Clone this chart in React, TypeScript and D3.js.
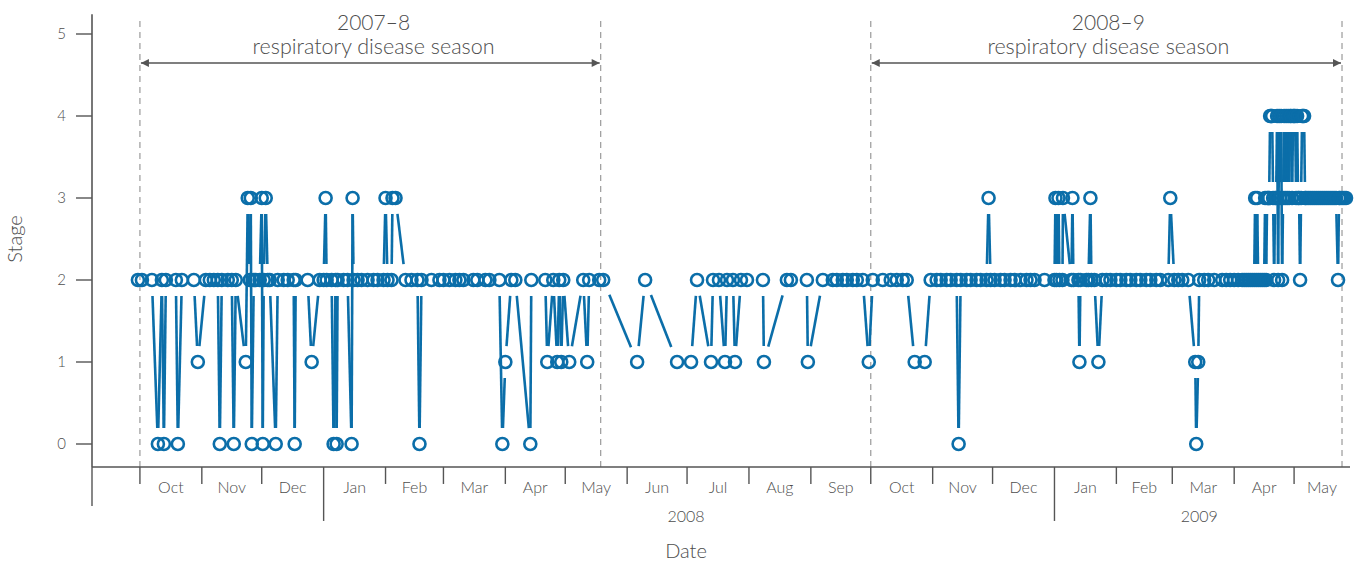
import React from "react";
import * as d3 from "d3";

// ---------- data (date, stage) ----------
const season2007: [string, number][] = [
  ["2007-09-30", 2], ["2007-10-02", 2], ["2007-10-07", 2], ["2007-10-10", 0], ["2007-10-12", 2],
  ["2007-10-13", 0], ["2007-10-14", 2], ["2007-10-19", 2], ["2007-10-20", 0], ["2007-10-22", 2],
  ["2007-10-28", 2], ["2007-10-30", 1], ["2007-11-03", 2], ["2007-11-05", 2], ["2007-11-07", 2],
  ["2007-11-09", 2], ["2007-11-10", 0], ["2007-11-11", 2], ["2007-11-14", 2], ["2007-11-16", 2],
  ["2007-11-17", 0], ["2007-11-18", 2], ["2007-11-23", 1], ["2007-11-24", 3], ["2007-11-25", 2],
  ["2007-11-25 12", 3], ["2007-11-26", 0], ["2007-11-27", 2], ["2007-11-28", 2], ["2007-11-30", 2],
  ["2007-12-01", 3], ["2007-12-01 12", 0], ["2007-12-02", 2], ["2007-12-03", 3], ["2007-12-04", 2],
  ["2007-12-05", 2], ["2007-12-08", 0], ["2007-12-09", 2], ["2007-12-12", 2], ["2007-12-14", 2],
  ["2007-12-17", 2], ["2007-12-17 12", 0], ["2007-12-18", 2], ["2007-12-24", 2], ["2007-12-26", 1],
  ["2007-12-30", 2], ["2008-01-01", 2], ["2008-01-02", 3], ["2008-01-02 12", 2], ["2008-01-05", 2],
  ["2008-01-06", 0], ["2008-01-07", 2], ["2008-01-07 12", 0], ["2008-01-08", 2], ["2008-01-11", 2],
  ["2008-01-13", 2], ["2008-01-15", 0], ["2008-01-15 12", 3], ["2008-01-16", 2], ["2008-01-18", 2],
  ["2008-01-20", 2], ["2008-01-23", 2], ["2008-01-26", 2], ["2008-01-28", 2], ["2008-01-31", 2],
  ["2008-02-01", 3], ["2008-02-02", 2], ["2008-02-04", 2], ["2008-02-04 12", 3], ["2008-02-06", 3],
  ["2008-02-11", 2], ["2008-02-14", 2], ["2008-02-17", 2], ["2008-02-18", 0], ["2008-02-19", 2],
  ["2008-02-24", 2], ["2008-02-28", 2], ["2008-03-01", 2], ["2008-03-04", 2], ["2008-03-07", 2],
  ["2008-03-09", 2], ["2008-03-11", 2], ["2008-03-16", 2], ["2008-03-18", 2], ["2008-03-22", 2],
  ["2008-03-24", 2], ["2008-03-29", 2], ["2008-03-30 12", 0], ["2008-04-01", 1], ["2008-04-04", 2],
  ["2008-04-06", 2], ["2008-04-13 12", 0], ["2008-04-14", 2], ["2008-04-21", 2], ["2008-04-22", 1],
  ["2008-04-25", 2], ["2008-04-27", 1], ["2008-04-28", 2], ["2008-04-29", 1], ["2008-04-30", 2],
  ["2008-05-03", 1], ["2008-05-10", 2], ["2008-05-12", 1], ["2008-05-13", 2], ["2008-05-18", 2],
  ["2008-05-20", 2],
];

const summer2008: [string, number][] = [
  ["2008-06-06", 1], ["2008-06-10", 2], ["2008-06-26", 1], ["2008-07-03", 1], ["2008-07-06", 2],
  ["2008-07-13", 1], ["2008-07-14", 2], ["2008-07-17", 2], ["2008-07-20", 1], ["2008-07-21", 2],
  ["2008-07-24", 2], ["2008-07-25", 1], ["2008-07-28", 2], ["2008-07-31", 2], ["2008-08-08", 2],
  ["2008-08-08 12", 1], ["2008-08-20", 2], ["2008-08-22", 2], ["2008-08-30", 2], ["2008-08-30 12", 1],
  ["2008-09-07", 2], ["2008-09-12", 2], ["2008-09-14", 2], ["2008-09-17", 2], ["2008-09-19", 2],
  ["2008-09-22", 2], ["2008-09-24", 2], ["2008-09-27", 2], ["2008-09-30", 1],
];

const season2008: [string, number][] = [
  ["2008-10-02", 2], ["2008-10-07", 2], ["2008-10-11", 2], ["2008-10-14", 2], ["2008-10-17", 2],
  ["2008-10-19", 2], ["2008-10-23", 1], ["2008-10-28", 1], ["2008-10-31", 2], ["2008-11-03", 2],
  ["2008-11-05", 2], ["2008-11-08", 2], ["2008-11-10", 2], ["2008-11-13", 2], ["2008-11-14", 0],
  ["2008-11-15", 2], ["2008-11-18", 2], ["2008-11-20", 2], ["2008-11-23", 2], ["2008-11-25", 2],
  ["2008-11-28", 2], ["2008-11-29", 3], ["2008-11-30", 2], ["2008-12-02", 2], ["2008-12-05", 2],
  ["2008-12-07", 2], ["2008-12-10", 2], ["2008-12-12", 2], ["2008-12-15", 2], ["2008-12-18", 2],
  ["2008-12-20", 2], ["2008-12-22", 2], ["2008-12-27", 2], ["2009-01-01", 2], ["2009-01-01 12", 3],
  ["2009-01-02", 2], ["2009-01-03", 3], ["2009-01-03 12", 2], ["2009-01-05", 2], ["2009-01-05 6", 3],
  ["2009-01-09 12", 2], ["2009-01-10", 3], ["2009-01-10 12", 2], ["2009-01-13", 2], ["2009-01-13 12", 1],
  ["2009-01-14", 2], ["2009-01-17", 2], ["2009-01-18", 2], ["2009-01-19", 3], ["2009-01-19 12", 2],
  ["2009-01-21", 2], ["2009-01-23", 1], ["2009-01-25", 2], ["2009-01-27", 2], ["2009-01-29", 2],
  ["2009-02-01", 2], ["2009-02-03", 2], ["2009-02-06", 2], ["2009-02-08", 2], ["2009-02-11", 2],
  ["2009-02-13", 2], ["2009-02-16", 2], ["2009-02-18", 2], ["2009-02-21", 2], ["2009-02-23", 2],
  ["2009-02-27", 2], ["2009-02-28", 3], ["2009-03-02", 2], ["2009-03-04", 2], ["2009-03-06", 2],
  ["2009-03-09", 2], ["2009-03-12 12", 1], ["2009-03-13", 0], ["2009-03-14", 1], ["2009-03-14 12", 2],
  ["2009-03-17", 2], ["2009-03-19", 2], ["2009-03-22", 2], ["2009-03-26", 2], ["2009-03-28", 2],
  ["2009-03-30", 2], ["2009-04-01", 2], ["2009-04-03", 2], ["2009-04-05", 2], ["2009-04-06", 2],
  ["2009-04-07", 2], ["2009-04-08", 2], ["2009-04-09", 2], ["2009-04-10", 2], ["2009-04-11", 2],
  ["2009-04-11 12", 3], ["2009-04-12", 2], ["2009-04-12 12", 3], ["2009-04-13", 2], ["2009-04-14", 2],
  ["2009-04-15", 2], ["2009-04-16", 2], ["2009-04-16 12", 3], ["2009-04-17", 2], ["2009-04-17 12", 3],
  ["2009-04-18", 3], ["2009-04-18 12", 3], ["2009-04-19", 4], ["2009-04-19 12", 4], ["2009-04-20", 4],
  ["2009-04-20 12", 3], ["2009-04-21", 2], ["2009-04-21 12", 3], ["2009-04-22", 3], ["2009-04-22 12", 4],
  ["2009-04-23", 2], ["2009-04-23 12", 4], ["2009-04-24", 3], ["2009-04-24 12", 4], ["2009-04-25", 2],
  ["2009-04-25 12", 3], ["2009-04-26", 4], ["2009-04-26 12", 3], ["2009-04-27", 4], ["2009-04-27 12", 3],
  ["2009-04-28", 4], ["2009-04-28 12", 3], ["2009-04-29", 4], ["2009-04-29 12", 4], ["2009-04-30", 3],
  ["2009-04-30 12", 4], ["2009-05-01", 4], ["2009-05-01 12", 4], ["2009-05-02", 3], ["2009-05-02 12", 4],
  ["2009-05-03", 3], ["2009-05-03 12", 3], ["2009-05-04", 2], ["2009-05-04 12", 3], ["2009-05-05", 4],
  ["2009-05-05 12", 4], ["2009-05-06", 4], ["2009-05-06 12", 3], ["2009-05-07", 3], ["2009-05-08", 3],
  ["2009-05-09", 3], ["2009-05-10", 3], ["2009-05-11", 3], ["2009-05-12", 3], ["2009-05-13", 3],
  ["2009-05-14", 3], ["2009-05-15", 3], ["2009-05-16", 3], ["2009-05-17", 3], ["2009-05-18", 3],
  ["2009-05-19", 3], ["2009-05-20", 3], ["2009-05-21", 3], ["2009-05-22", 3], ["2009-05-23", 2],
  ["2009-05-23 12", 3], ["2009-05-24", 3], ["2009-05-25", 3], ["2009-05-26", 3], ["2009-05-27", 3],
];

const stageTicks = [0, 1, 2, 3, 4, 5];
const monthTicks = [
  "2007-10-01", "2007-11-01", "2007-12-01", "2008-01-01", "2008-02-01", "2008-03-01", "2008-04-01",
  "2008-05-01", "2008-06-01", "2008-07-01", "2008-08-01", "2008-09-01", "2008-10-01", "2008-11-01",
  "2008-12-01", "2009-01-01", "2009-02-01", "2009-03-01", "2009-04-01", "2009-05-01",
];
const yearTicks = ["2008-01-01", "2009-01-01"];
const axisStart = "2007-09-07";
const axisEnd = "2009-05-29";
const seasonStarts = ["2007-10-01", "2008-10-01"];
const seasonEnds = ["2008-05-18 18", "2009-05-25"];
const seasonNames = ["2007–8", "2008–9"];
const seasonLabelCentres = ["2008-01-26", "2009-01-28"];

const parse = (s: string) => {
  const [d, h] = s.split(" ");
  const [Y, M, D] = d.split("-").map(Number);
  return new Date(Y, M - 1, D, h ? +h : 0);
};

const BLUE = "#0b6ea9";
const GREY = "#4d4d4d";
const FONT = "Lato, 'Open Sans', 'DejaVu Sans', sans-serif";

export default function App() {
  const x = d3.scaleTime().domain([parse(axisStart), parse(axisEnd)]).range([92, 1350]);
  const y = d3.scaleLinear().domain([0, 5]).range([444, 34]);
  const monthFmt = d3.timeFormat("%b");
  const yearFmt = d3.timeFormat("%Y");

  const data = [...season2007, ...summer2008, ...season2008].map(([d, s]) => ({ date: parse(d), stage: s }));
  const pts = data.map((d) => [x(d.date), y(d.stage)] as [number, number]);

  const gap = 16;
  const segs: [number, number, number, number][] = [];
  for (let i = 1; i < pts.length; i++) {
    const [x1, y1] = pts[i - 1];
    const [x2, y2] = pts[i];
    const dx = x2 - x1, dy = y2 - y1;
    const L = Math.hypot(dx, dy);
    if (L > 2 * gap) {
      segs.push([x1 + (dx / L) * gap, y1 + (dy / L) * gap, x2 - (dx / L) * gap, y2 - (dy / L) * gap]);
    }
  }

  const axisY = y(-0.28);
  const x0 = x(parse(axisStart));
  const x1 = x(parse(axisEnd));
  const months = monthTicks.map(parse);
  const years = yearTicks.map(parse);
  const arrowY = 63;

  return (
    <svg width={1354} height={563} style={{ position: "absolute", left: 0, top: 0, background: "#fff" }}
      fontFamily={FONT} fontWeight={300}>
      <defs>
        <marker id="ah" viewBox="0 0 10 10" refX="10" refY="5" markerWidth="15" markerHeight="8"
          markerUnits="userSpaceOnUse" orient="auto-start-reverse">
          <path d="M0,0 L10,5 L0,10 z" fill="#555" />
        </marker>
      </defs>

      {/* season dashed lines */}
      {[...seasonStarts, ...seasonEnds].map((s, i) => (
        <line key={"dl" + i} x1={x(parse(s))} x2={x(parse(s))} y1={21} y2={axisY}
          stroke="#9a9a9a" strokeWidth={1.2} strokeDasharray="6,5" />
      ))}

      {/* season annotations */}
      {seasonNames.map((n, i) => {
        const a = x(parse(seasonStarts[i]));
        const b = x(parse(seasonEnds[i]));
        const c = x(parse(seasonLabelCentres[i]));
        return (
          <g key={"sa" + i}>
            <text x={c} y={30} textAnchor="middle" fontSize={21} fill={GREY}>{n}</text>
            <text x={c} y={54} textAnchor="middle" fontSize={21.5} fill={GREY}>respiratory disease season</text>
            <line x1={a + 1} x2={b - 1} y1={arrowY} y2={arrowY} stroke="#555" strokeWidth={1.4}
              markerStart="url(#ah)" markerEnd="url(#ah)" />
          </g>
        );
      })}

      {/* y axis */}
      <line x1={x0} x2={x0} y1={axisY} y2={y(5.24)} stroke="#555" strokeWidth={1.6} />
      {stageTicks.map((t) => (
        <g key={"yt" + t}>
          <line x1={x0 - 16} x2={x0} y1={y(t)} y2={y(t)} stroke="#555" strokeWidth={1.4} />
          <text x={x0 - 26} y={y(t)} dy="0.35em" textAnchor="end" fontSize={15} fill={GREY}>{t}</text>
        </g>
      ))}
      <text transform={`translate(22,${(y(0) + y(5)) / 2}) rotate(-90)`} textAnchor="middle" fontSize={20}
        fill={GREY}>Stage</text>

      {/* x axis */}
      <line x1={x0} x2={x1} y1={axisY} y2={axisY} stroke="#555" strokeWidth={1.6} />
      <line x1={x0} x2={x0} y1={axisY} y2={axisY + 39} stroke="#555" strokeWidth={1.4} />
      {months.map((m, i) => {
        const isYear = years.some((yy) => +yy === +m);
        const xm = x(m);
        const next = i < months.length - 1 ? x(months[i + 1]) : x1;
        return (
          <g key={"mt" + i}>
            <line x1={xm} x2={xm} y1={axisY} y2={axisY + (isYear ? 54 : 17)} stroke="#555" strokeWidth={1.4} />
            <text x={(xm + next) / 2} y={axisY + 26} textAnchor="middle" fontSize={16} fill={GREY}>{monthFmt(m)}</text>
          </g>
        );
      })}
      {years.map((yy, i) => {
        const a = x(yy);
        const b = i < years.length - 1 ? x(years[i + 1]) : x1;
        return (
          <text key={"yr" + i} x={(a + b) / 2 - 3} y={axisY + 55} textAnchor="middle" fontSize={16} fill={GREY}>
            {yearFmt(yy)}
          </text>
        );
      })}
      <text x={(x0 + x1) / 2 - 35} y={558} textAnchor="middle" fontSize={20} fill={GREY}>Date</text>

      {/* data lines */}
      {segs.map((s, i) => (
        <line key={"sg" + i} x1={s[0]} y1={s[1]} x2={s[2]} y2={s[3]} stroke={BLUE} strokeWidth={2.6} />
      ))}
      {/* data points */}
      {pts.map((p, i) => (
        <circle key={"pt" + i} cx={p[0]} cy={p[1]} r={6} fill="none" stroke={BLUE} strokeWidth={2.6} />
      ))}
    </svg>
  );
}
